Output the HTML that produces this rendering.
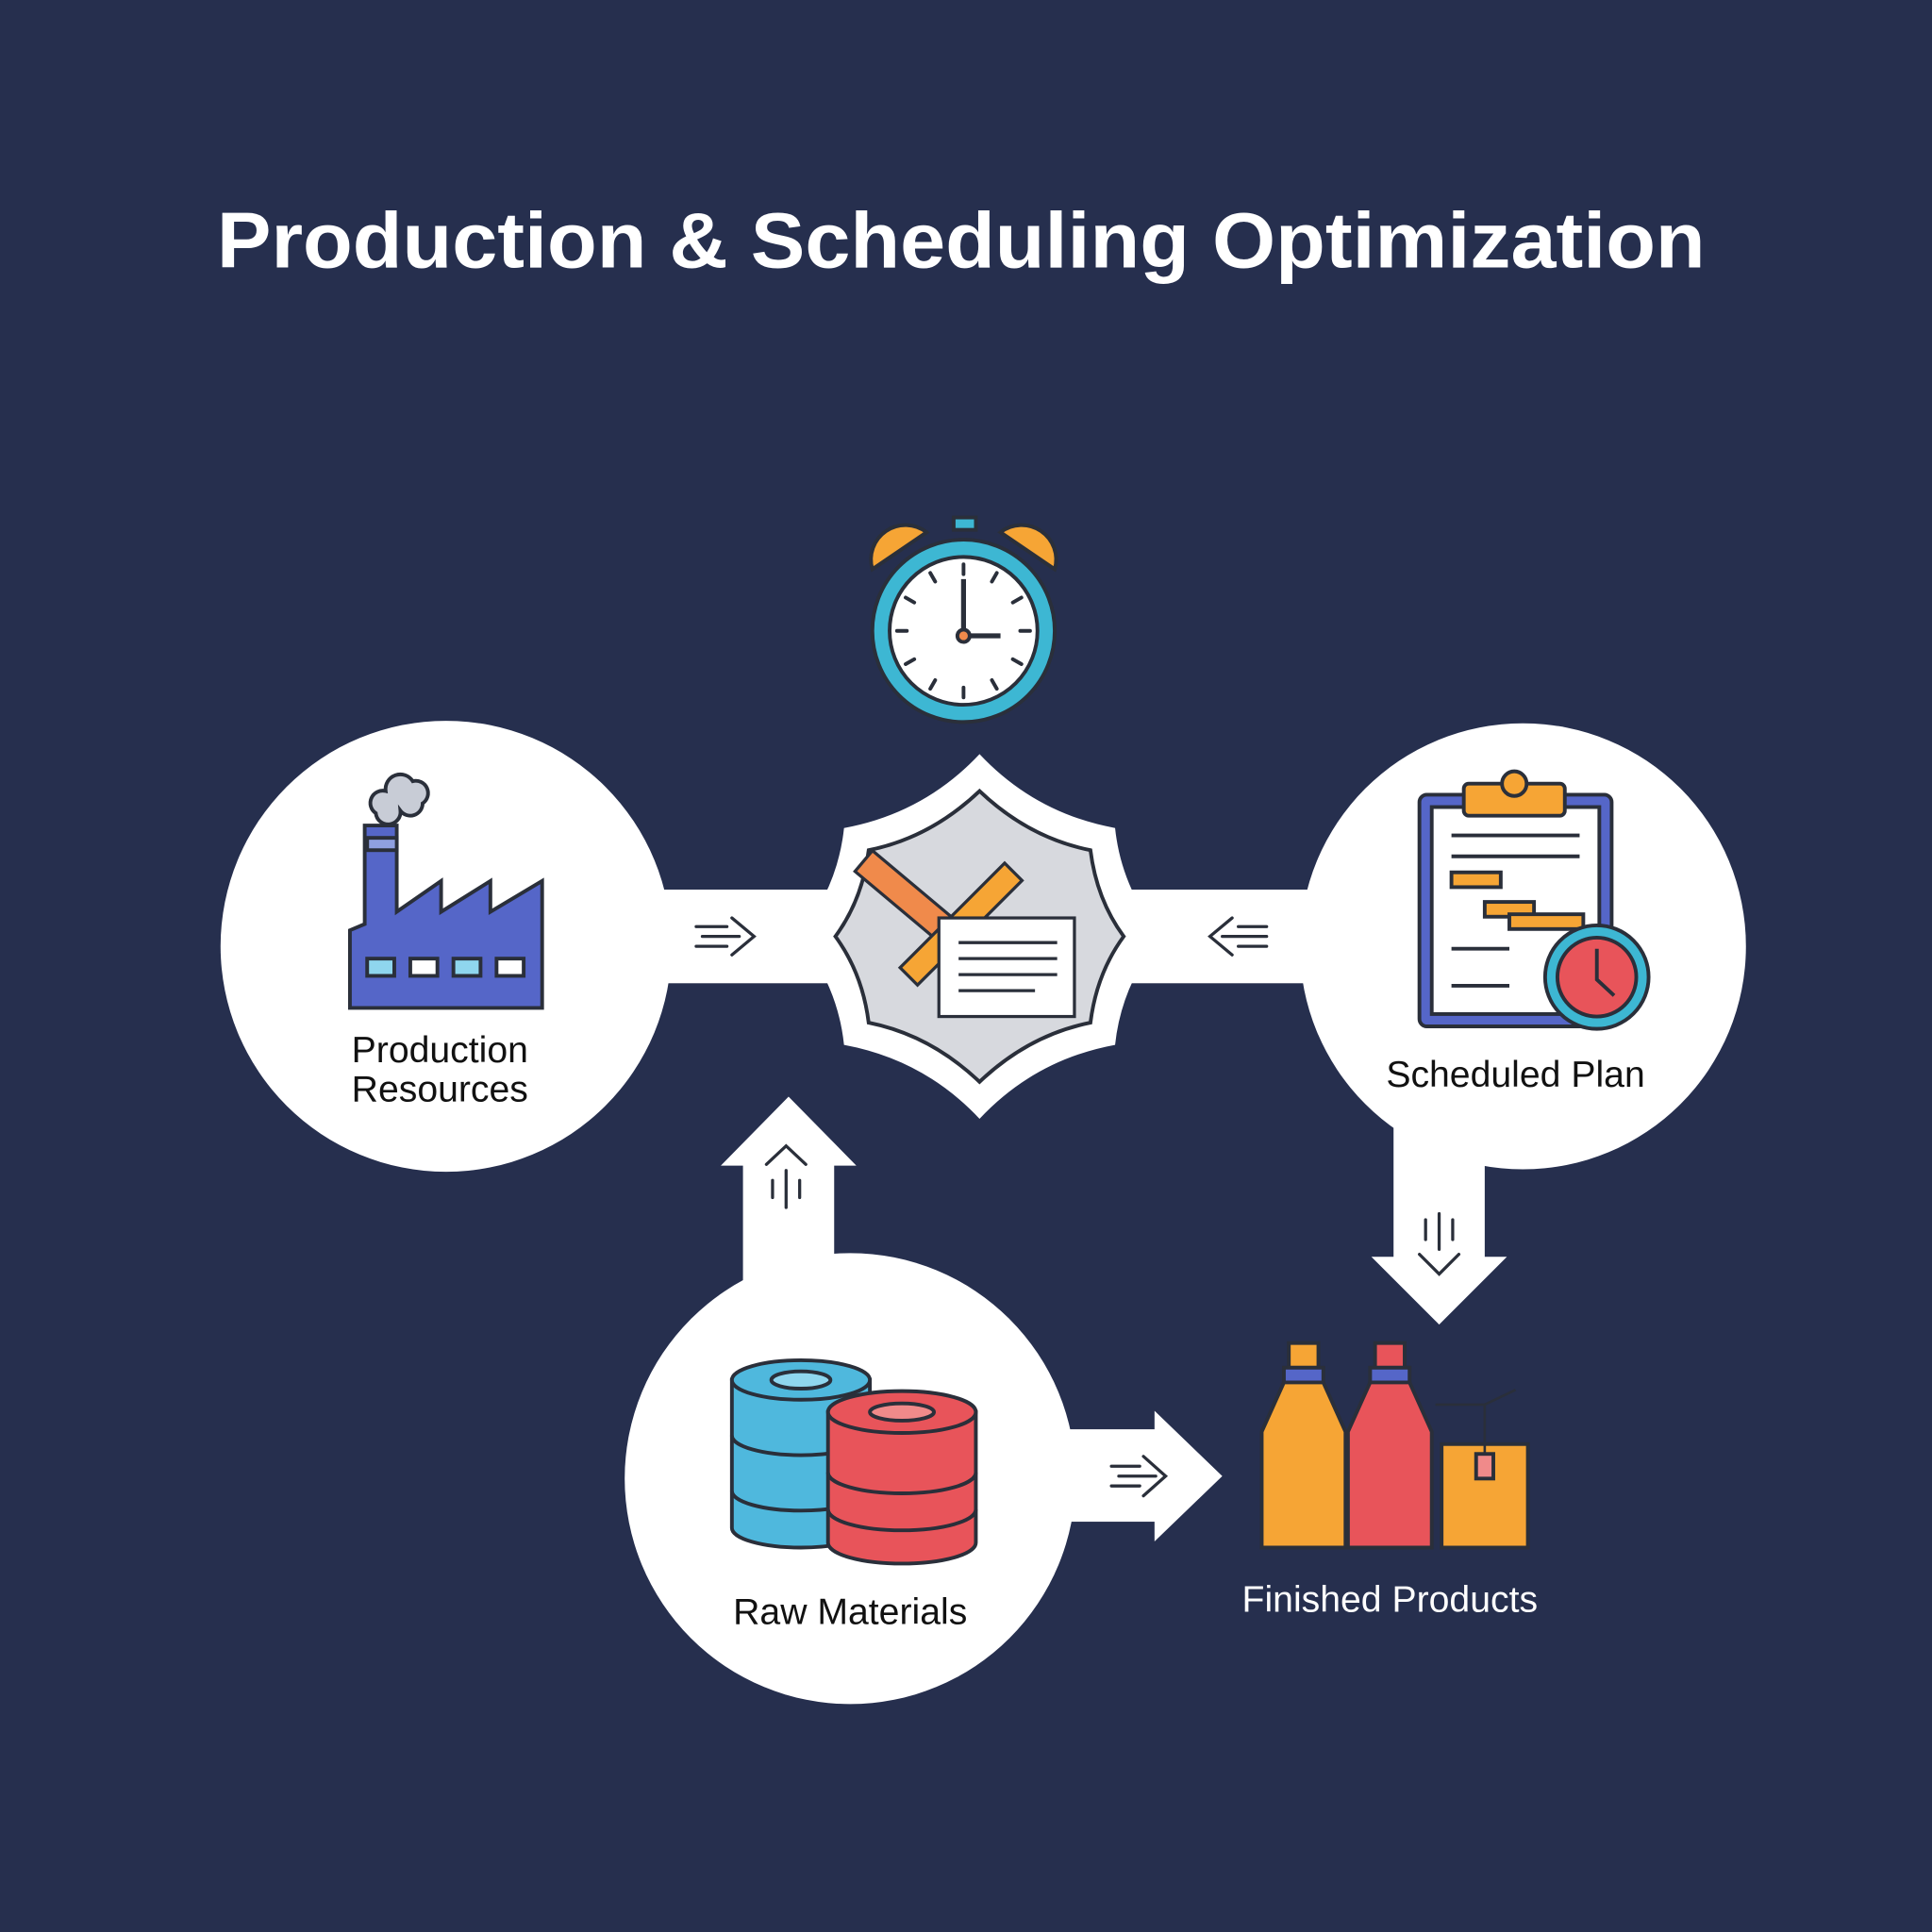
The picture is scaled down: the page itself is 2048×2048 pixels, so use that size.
<!DOCTYPE html>
<html><head><meta charset="utf-8"><style>
html,body{margin:0;padding:0;background:#262f4e;}
svg{display:block}
</style></head><body>
<svg width="2048" height="2048" viewBox="0 0 1568 1568" xmlns="http://www.w3.org/2000/svg" font-family="Liberation Sans, sans-serif">
<rect width="1568" height="1568" fill="#262f4e"/>
<text x="780" y="217" text-anchor="middle" fill="#fff" font-weight="bold" font-size="64" textLength="1208" lengthAdjust="spacingAndGlyphs">Production &amp; Scheduling Optimization</text>

<g fill="#fff">
<rect x="530" y="722" width="150" height="76"/>
<rect x="910" y="722" width="160" height="76"/>
<rect x="603" y="940" width="74" height="110"/>
<polygon points="585,946 695,946 640,890"/>
<rect x="1131" y="910" width="74" height="112"/>
<polygon points="1113,1020 1223,1020 1168,1075"/>
<rect x="860" y="1160" width="80" height="75"/>
<polygon points="937,1145 937,1251 992,1198"/>
<circle cx="362" cy="768" r="183"/>
<circle cx="1236" cy="768" r="181"/>
<circle cx="690" cy="1200" r="183"/>
<path d="M795,612 Q840,660 905,672 Q910,720 942,760 Q910,800 905,848 Q840,860 795,908 Q750,860 685,848 Q680,800 648,760 Q680,720 685,672 Q750,660 795,612Z"/>
</g>
<g stroke="#2a2f3a" stroke-width="2.5" fill="none" stroke-linecap="round">
<path d="M594,745 L612,760 L594,775 M565,752 H590 M570,760 H600 M565,768 H590"/>
<path d="M1000,745 L982,760 L1000,775 M1005,752 H1028 M992,760 H1028 M1005,768 H1028"/>
<path d="M622,945 L638,930 L654,945 M627,958 V972 M638,950 V980 M649,958 V972"/>
<path d="M1152,1018 L1168,1034 L1184,1018 M1157,990 V1006 M1168,985 V1014 M1179,990 V1006"/>
<path d="M928,1182 L946,1198 L928,1214 M902,1190 H925 M908,1198 H938 M902,1206 H925"/>
</g>
<path d="M795,642 Q835,680 885,690 Q890,730 912,760 Q890,790 885,830 Q835,840 795,878 Q755,840 705,830 Q700,790 678,760 Q700,730 705,690 Q755,680 795,642Z" fill="#d7d9de" stroke="#2a2f3a" stroke-width="3"/>
<g stroke="#2a2f3a" stroke-width="2.5">
<rect x="690" y="718" width="95" height="22" transform="rotate(40 737 729)" fill="#f08a4b"/>
<rect x="720" y="740" width="120" height="20" transform="rotate(-45 780 750)" fill="#f6a535"/>
<rect x="762" y="745" width="110" height="80" fill="#fff"/>
<path d="M778,765 H858 M778,778 H858 M778,791 H858 M778,804 H840" fill="none"/>
</g>
<g stroke="#2a2f3a" stroke-width="3">
<path d="M708,462 A28,28 0 0,1 752,432 Z" fill="#f6a535"/>
<path d="M856,462 A28,28 0 0,0 812,432 Z" fill="#f6a535"/>
<rect x="774" y="420" width="18" height="10" fill="#3db7d3"/>
<circle cx="782" cy="512" r="74" fill="#3db7d3"/>
<circle cx="782" cy="512" r="60" fill="#fff"/>
<g stroke-width="3" stroke-linecap="round">
<path d="M782,458 V466 M782,558 V566 M728,512 H736 M828,512 H836 M755,465 L759,472 M809,465 L805,472 M755,559 L759,552 M809,559 L805,552 M735,485 L742,489 M829,485 L822,489 M735,539 L742,535 M829,539 L822,535"/>
</g>
<path d="M782,470 V516 H812" fill="none" stroke-width="4"/>
<circle cx="782" cy="516" r="5" fill="#f08a4b"/>
</g>
<g stroke="#2a2f3a" stroke-width="3">
<path d="M296,700 V670 H322 V740 L358,715 V740 L398,715 V740 L440,715 V818 H284 V755 L296,750Z" fill="#5566c8"/>
<rect x="298" y="680" width="24" height="10" fill="#8fa0e0"/>
<rect x="298" y="778" width="22" height="14" fill="#8fd6ee"/>
<rect x="333" y="778" width="22" height="14" fill="#fff"/>
<rect x="368" y="778" width="22" height="14" fill="#8fd6ee"/>
<rect x="403" y="778" width="22" height="14" fill="#fff"/>
<path d="M305,660 a10,10 0 0,1 8,-18 a12,12 0 0,1 22,-8 a10,10 0 0,1 8,18 a10,10 0 0,1 -18,6 a10,10 0 0,1 -20,2z" fill="#c8ccd6"/>
</g>
<text x="357" y="862" text-anchor="middle" font-size="30" fill="#111">Production</text>
<text x="357" y="894" text-anchor="middle" font-size="30" fill="#111">Resources</text>
<g stroke="#2a2f3a" stroke-width="3">
<rect x="1152" y="645" width="156" height="188" rx="6" fill="#5566c8"/>
<rect x="1162" y="655" width="136" height="168" fill="#fff"/>
<rect x="1188" y="636" width="82" height="26" rx="4" fill="#f6a535"/>
<circle cx="1229" cy="636" r="10" fill="#f6a535"/>
<path d="M1178,678 H1282 M1178,695 H1282 M1178,770 H1225 M1178,800 H1225" fill="none"/>
<rect x="1178" y="708" width="40" height="12" fill="#f6a535"/>
<rect x="1205" y="732" width="40" height="12" fill="#f6a535"/>
<rect x="1225" y="742" width="60" height="12" fill="#f6a535"/>
<circle cx="1296" cy="793" r="42" fill="#3db7d3"/>
<circle cx="1296" cy="793" r="32" fill="#e8545a"/>
<path d="M1296,770 V795 L1310,808" fill="none"/>
</g>
<text x="1230" y="882" text-anchor="middle" font-size="30" fill="#111">Scheduled Plan</text>
<g stroke="#2a2f3a" stroke-width="3">
<path d="M594,1120 V1240 A56,16 0 0,0 706,1240 V1120Z" fill="#4fb8dd"/>
<path d="M594,1165 A56,16 0 0,0 706,1165 M594,1210 A56,16 0 0,0 706,1210" fill="none"/>
<ellipse cx="650" cy="1120" rx="56" ry="16" fill="#4fb8dd"/>
<ellipse cx="650" cy="1120" rx="24" ry="7" fill="#8fd6ee"/>
<path d="M672,1146 V1252 A60,17 0 0,0 792,1252 V1146Z" fill="#e8545a"/>
<ellipse cx="732" cy="1146" rx="60" ry="17" fill="#e8545a"/>
<ellipse cx="732" cy="1146" rx="26" ry="7" fill="#f08a8a"/>
<path d="M672,1195 A60,17 0 0,0 792,1195 M672,1225 A60,17 0 0,0 792,1225" fill="none"/>
</g>
<text x="690" y="1318" text-anchor="middle" font-size="30" fill="#111">Raw Materials</text>
<g stroke="#2a2f3a" stroke-width="3">
<rect x="1046" y="1090" width="24" height="20" fill="#f6a535"/>
<rect x="1042" y="1110" width="32" height="12" fill="#5566c8"/>
<path d="M1042,1122 L1024,1162 V1256 H1092 V1162 L1074,1122Z" fill="#f6a535"/>
<rect x="1116" y="1090" width="24" height="20" fill="#e8545a"/>
<rect x="1112" y="1110" width="32" height="12" fill="#5566c8"/>
<path d="M1112,1122 L1094,1162 V1256 H1162 V1162 L1144,1122Z" fill="#e8545a"/>
<rect x="1170" y="1172" width="70" height="84" fill="#f6a535"/>
<path d="M1165,1140 H1205 V1180 M1205,1140 L1230,1128" fill="none" stroke-width="2"/>
<rect x="1198" y="1180" width="14" height="20" fill="#f08a8a"/>
</g>
<text x="1128" y="1308" text-anchor="middle" font-size="30" fill="#fff">Finished Products</text>
</svg>
</body></html>
